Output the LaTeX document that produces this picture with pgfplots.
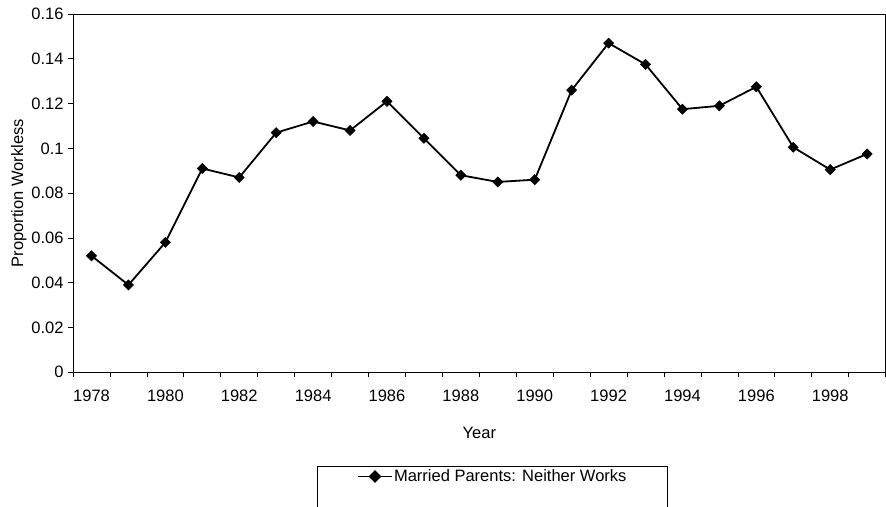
\documentclass[border=0pt]{standalone}
\usepackage{fontspec}
\setmainfont{Liberation Sans}
\usepackage{pgfplots}
\pgfplotsset{compat=1.18}
\newcommand\f{\fontsize{16.5}{19}\selectfont}

\begin{document}
\begin{tikzpicture}
\useasboundingbox (-73pt,-134pt) rectangle (812.4pt,372pt);
\begin{axis}[
  at={(0,0)},anchor=south west,
  scale only axis,width=812pt,height=358pt,
  xmin=1977.5,xmax=1999.5,ymin=0,ymax=0.16,
  xtick={1977.5,1978.5,...,1999.5},xticklabels={},
  extra x ticks={1978,1980,...,1998},
  extra x tick style={tick style={draw=none}},
  ytick={0,0.02,...,0.16},
  scaled y ticks=false,
  tick align=outside,major tick length=5pt,
  xtick pos=bottom,ytick pos=left,
  axis line style={line width=0.9pt},
  tick style={black,line width=0.7pt},
  /pgf/number format/assume math mode=true,
  /pgf/number format/1000 sep={},
  yticklabel style={/pgf/number format/fixed,/pgf/number format/precision=2,xshift=-1pt},
  xticklabel style={yshift=-9pt},
  tick label style={font=\f},
  label style={font=\f},
  xlabel={Year},ylabel={Proportion Workless},
  xlabel style={yshift=-14pt},
  ylabel style={yshift=-2pt},
  legend style={font=\f,at={(axis description cs:0.516,-0.2626)},anchor=north,
    draw=black,inner xsep=39.5pt,inner ysep=2pt,
    cells={anchor=base west},
    nodes={inner sep=1pt,text depth=30pt}},
  legend image code/.code={
    \draw[yshift=5pt,line width=1.8pt] (0pt,0pt) -- (34pt,0pt);
    \draw[yshift=5pt,mark options={rotate=45}] plot[mark=square*,mark size=3.6pt] coordinates {(17pt,0pt)};},
]
\addplot[black,line width=1.8pt,mark=square*,mark size=3.6pt,
  mark options={solid,fill=black,line width=0.5pt,rotate=45}] coordinates {
(1978,0.052)(1979,0.039)(1980,0.058)(1981,0.091)(1982,0.087)(1983,0.107)
(1984,0.112)(1985,0.108)(1986,0.121)(1987,0.1045)(1988,0.088)(1989,0.085)
(1990,0.086)(1991,0.126)(1992,0.147)(1993,0.1375)(1994,0.1175)(1995,0.119)
(1996,0.1275)(1997,0.1005)(1998,0.0905)(1999,0.0975)};
\legend{Married Parents: Neither Works}
\end{axis}
\end{tikzpicture}
\end{document}
